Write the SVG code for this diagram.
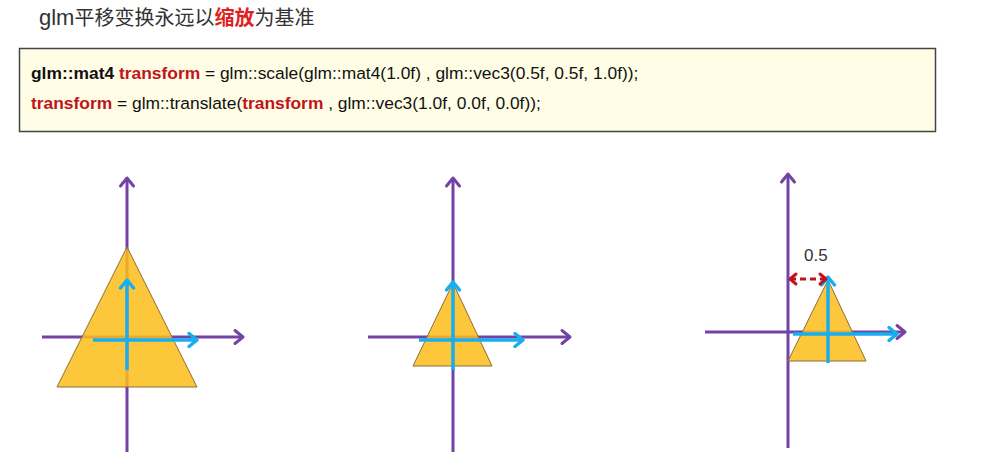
<svg xmlns="http://www.w3.org/2000/svg" width="1007" height="452" viewBox="0 0 1007 452">
<style>
.t{font-family:"Liberation Sans","Noto Sans CJK SC",sans-serif;}
.code{font-family:"Liberation Sans",Arial,sans-serif;font-size:17.4px;fill:#111;}
.b{font-weight:bold;}
.r{fill:#c0141c;font-weight:bold;}
.ax{stroke:#7442a6;stroke-width:3;fill:none;}
.bl{stroke:#18aef0;stroke-width:3.5;fill:none;}
.tri{fill:#fdbd1a;fill-opacity:0.85;stroke:#8c6d3a;stroke-width:1;}
</style>
<defs>
<marker id="ap" markerUnits="userSpaceOnUse" markerWidth="20" markerHeight="20" refX="11" refY="10" orient="auto" overflow="visible">
<path d="M3,3.5 L11,10 L3,16.5" fill="none" stroke="#7442a6" stroke-width="3" stroke-linecap="round" stroke-linejoin="round"/>
</marker>
<marker id="ab" markerUnits="userSpaceOnUse" markerWidth="20" markerHeight="20" refX="11" refY="10" orient="auto" overflow="visible">
<path d="M3,3.5 L11,10 L3,16.5" fill="none" stroke="#18aef0" stroke-width="3.5" stroke-linecap="round" stroke-linejoin="round"/>
</marker>
<marker id="ar" markerUnits="userSpaceOnUse" markerWidth="20" markerHeight="20" refX="10" refY="10" orient="auto-start-reverse" overflow="visible">
<path d="M4,5 L10,10 L4,15" fill="none" stroke="#c0141c" stroke-width="3" stroke-linecap="round" stroke-linejoin="round"/>
</marker>
</defs>
<rect width="1007" height="452" fill="#ffffff"/>
<g id="title">
<text class="t" x="39" y="25" font-size="20" fill="#333333"><tspan font-size="22">glm</tspan>平移变换永远以<tspan fill="#e0201c" font-weight="bold">缩放</tspan>为基准</text>
</g>
<g id="codebox">
<rect x="19.5" y="48.5" width="916" height="83" fill="#fffde6" stroke="#444444" stroke-width="1.5"/>
<text class="code" x="31" y="79"><tspan class="b">glm::mat4</tspan> <tspan class="r">transform</tspan> = glm::scale(glm::mat4(1.0f) , glm::vec3(0.5f, 0.5f, 1.0f));</text>
<text class="code" x="31" y="109"><tspan class="r">transform</tspan> = glm::translate(<tspan class="r">transform</tspan> , glm::vec3(1.0f, 0.0f, 0.0f));</text>
</g>
<g id="diagram1">
<line class="ax" x1="127" y1="452" x2="127" y2="178" marker-end="url(#ap)"/>
<line class="ax" x1="42" y1="337" x2="243" y2="337" marker-end="url(#ap)"/>
<polygon class="tri" points="127,247 197,387 57,387"/>
<line class="bl" x1="127" y1="370" x2="127" y2="280" marker-end="url(#ab)"/>
<line class="bl" x1="93" y1="340" x2="197" y2="340" marker-end="url(#ab)"/>
</g>
<g id="diagram2">
<line class="ax" x1="453" y1="452" x2="453" y2="178" marker-end="url(#ap)"/>
<line class="ax" x1="368" y1="337" x2="570" y2="337" marker-end="url(#ap)"/>
<polygon class="tri" points="453,283 492,366 413,366"/>
<line class="bl" x1="453" y1="370" x2="453" y2="282" marker-end="url(#ab)"/>
<line class="bl" x1="419" y1="340" x2="523" y2="340" marker-end="url(#ab)"/>
</g>
<g id="diagram3">
<line class="ax" x1="788" y1="448" x2="788" y2="174" marker-end="url(#ap)"/>
<line class="ax" x1="705" y1="332" x2="905" y2="332" marker-end="url(#ap)"/>
<polygon class="tri" points="828,280 866,361 788,361"/>
<line class="bl" x1="828" y1="363" x2="828" y2="277" marker-end="url(#ab)"/>
<line class="bl" x1="793" y1="334" x2="897" y2="334" marker-end="url(#ab)"/>
<line x1="790" y1="279" x2="826" y2="279" stroke="#c0141c" stroke-width="3" stroke-dasharray="6,4" marker-start="url(#ar)" marker-end="url(#ar)"/>
<text class="t" x="804" y="261" font-size="17" fill="#333333">0.5</text>
</g>
</svg>
